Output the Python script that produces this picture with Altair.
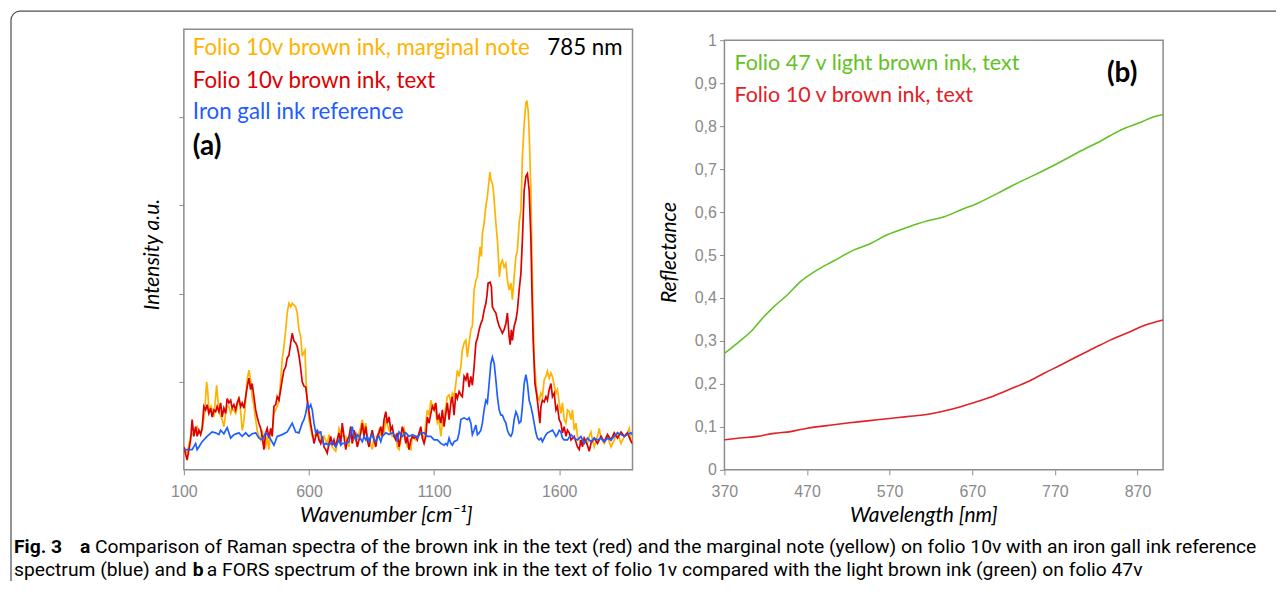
import altair as alt
import pandas as pd

# ---------------- data ----------------
# Raman spectra, wavenumber [cm-1] vs intensity (a.u., axis ticks at 1..4)
RAMAN_MARGINAL = [(100,0.26),(113,0.19),(127,0.38),(140,0.42),(153,0.49),(160,0.42),(173,0.45),(183,0.64),(191,1.00),(196,0.87),(201,0.64),(209,0.72),(220,0.60),(227,0.83),(231,0.96),(236,0.79),(244,0.64),(253,0.57),(260,0.49),(267,0.64),(273,0.72),(280,0.72),(287,0.64),(293,0.68),(300,0.68),(307,0.64),(313,0.72),(320,0.83),(327,0.66),(333,0.45),(337,0.49),(344,0.68),(353,1.02),(360,1.13),(367,1.02),(373,0.83),(380,0.72),(387,0.57),(393,0.45),(400,0.38),(407,0.34),(413,0.45),(420,0.30),(427,0.26),(433,0.38),(440,0.23),(447,0.45),(453,0.42),(460,0.64),(473,0.72),(480,0.79),(487,1.02),(493,1.25),(500,1.40),(507,1.59),(513,1.78),(520,1.89),(527,1.85),(533,1.89),(540,1.87),(547,1.85),
 (553,1.78),(560,1.59),(567,1.51),(573,1.29),(580,1.34),(584,1.36),(589,0.98),(593,0.79),(600,0.57),(607,0.47),(613,0.38),(627,0.40),(640,0.43),(647,0.30),(660,0.38),(673,0.30),(680,0.40),(693,0.26),(707,0.21),(713,0.30),(720,0.47),(733,0.38),(747,0.38),(760,0.26),(767,0.49),(773,0.30),(787,0.43),(793,0.34),(807,0.49),(813,0.57),(820,0.45),(827,0.53),(833,0.38),(840,0.34),(853,0.23),(860,0.38),(867,0.30),(880,0.45),(887,0.38),(893,0.49),(900,0.42),(907,0.57),(920,0.45),(933,0.38),(947,0.40),(953,0.26),(960,0.23),(973,0.42),(980,0.47),(993,0.26),(1007,0.23),(1013,0.38),(1027,0.34),
 (1033,0.38),(1047,0.45),(1060,0.34),(1067,0.53),(1073,0.68),(1080,0.62),(1087,0.79),(1093,0.72),(1100,0.74),(1107,0.66),(1113,0.53),(1120,0.57),(1127,0.38),(1133,0.53),(1140,0.57),(1147,0.72),(1153,0.83),(1160,0.85),(1167,0.76),(1173,0.87),(1180,0.83),(1187,0.98),(1193,1.13),(1200,1.06),(1207,1.17),(1213,1.36),(1220,1.44),(1227,1.47),(1233,1.28),(1240,1.44),(1247,1.59),(1253,1.63),(1260,2.04),(1267,2.15),(1273,2.19),(1280,2.42),(1284,2.53),(1289,2.42),(1293,2.68),(1300,2.80),(1307,2.99),(1313,3.10),(1317,3.21),(1323,3.38),(1327,3.29),(1333,3.25),(1337,3.17),(1343,2.95),(1347,2.80),(1353,2.61),(1357,2.42),(1361,2.19),(1367,2.34),(1373,2.38),(1380,2.30),(1387,2.34),(1393,2.15),(1400,2.04),(1407,2.12),(1413,1.93),(1420,2.19),(1427,2.42),(1433,2.49),(1440,2.80),(1447,2.95),
 (1453,3.55),(1460,3.93),(1467,4.16),(1471,4.19),(1476,4.08),(1480,3.82),(1487,3.17),(1491,2.42),(1495,1.85),(1500,1.28),(1507,0.98),(1513,0.83),(1520,0.79),(1527,0.87),(1533,0.83),(1540,1.02),(1547,1.06),(1553,1.12),(1560,1.04),(1567,1.10),(1573,1.06),(1580,0.96),(1587,0.87),(1593,0.91),(1600,0.76),(1607,0.64),(1613,0.76),(1620,0.57),(1627,0.53),(1633,0.68),(1640,0.66),(1647,0.57),(1653,0.68),(1660,0.45),(1667,0.53),(1673,0.38),(1680,0.34),(1687,0.30),(1700,0.36),(1713,0.30),(1720,0.38),(1727,0.43),(1733,0.34),(1740,0.26),(1753,0.38),(1760,0.47),(1767,0.36),(1780,0.30),(1793,0.38),(1807,0.26),(1820,0.34),(1833,0.42),(1847,0.30),(1860,0.38),(1873,0.42),(1880,0.47),(1887,0.34),(1893,0.30)]

RAMAN_TEXT = [(100,0.26),(113,0.11),(127,0.34),(133,0.57),(140,0.38),(147,0.49),(153,0.38),(160,0.45),(167,0.40),(173,0.47),(180,0.72),(187,0.68),(193,0.74),(200,0.64),(207,0.70),(213,0.60),(220,0.68),(227,0.66),(233,0.72),(240,0.66),(247,0.76),(253,0.60),(260,0.70),(267,0.64),(273,0.81),(280,0.76),(287,0.79),(293,0.70),(300,0.74),(307,0.68),(313,0.76),(320,0.81),(327,0.72),(333,0.76),(340,0.70),(347,0.83),(353,0.94),(360,1.04),(367,0.91),(373,0.98),(380,0.83),(387,0.68),(393,0.60),(400,0.53),(407,0.47),(413,0.38),(420,0.23),(427,0.42),(433,0.47),(440,0.36),(447,0.47),(453,0.38),(460,0.72),(467,0.74),(473,0.83),(480,0.79),(487,0.91),(493,1.02),(500,1.13),(507,1.17),(513,1.27),(520,1.30),(527,1.44),(533,1.55),(540,1.46),(547,1.44),
 (553,1.40),(560,1.30),(567,1.15),(573,1.00),(580,0.95),(587,0.94),(593,0.80),(600,0.66),(607,0.52),(613,0.42),(620,0.30),(627,0.38),(633,0.42),(640,0.34),(647,0.30),(653,0.38),(660,0.26),(667,0.23),(673,0.19),(680,0.30),(687,0.38),(693,0.28),(700,0.34),(707,0.26),(713,0.34),(720,0.42),(727,0.30),(733,0.53),(740,0.38),(747,0.23),(753,0.34),(760,0.38),(767,0.49),(773,0.30),(780,0.45),(787,0.38),(793,0.26),(800,0.34),(807,0.42),(813,0.53),(820,0.38),(827,0.49),(833,0.34),(840,0.26),(847,0.38),(853,0.45),(860,0.34),(867,0.26),(873,0.38),(880,0.42),(887,0.49),(893,0.38),(900,0.57),(907,0.66),(913,0.53),(920,0.60),(927,0.45),(933,0.49),(940,0.38),(947,0.34),(953,0.42),(960,0.26),(967,0.38),(973,0.49),(980,0.42),(987,0.30),(993,0.38),(1000,0.23),(1007,0.34),(1013,0.38),(1020,0.36),(1027,0.38),
 (1033,0.34),(1040,0.42),(1047,0.49),(1053,0.36),(1060,0.30),(1067,0.38),(1073,0.60),(1080,0.53),(1087,0.64),(1093,0.72),(1100,0.68),(1107,0.76),(1113,0.57),(1120,0.62),(1127,0.53),(1133,0.68),(1140,0.49),(1147,0.64),(1153,0.76),(1160,0.57),(1167,0.76),(1173,0.83),(1180,0.62),(1187,0.87),(1193,0.81),(1200,0.89),(1207,0.85),(1213,0.83),(1220,1.06),(1227,1.02),(1233,1.10),(1240,0.94),(1247,1.06),(1253,0.96),(1260,1.17),(1267,1.44),(1273,1.49),(1280,1.59),(1287,1.66),(1293,1.70),(1300,1.81),(1307,1.89),(1311,1.97),(1316,2.12),(1324,2.13),(1329,2.08),(1333,1.85),(1340,1.81),(1347,1.78),(1353,1.70),(1360,1.63),(1367,1.59),(1373,1.55),(1380,1.59),(1387,1.66),(1393,1.78),(1400,1.51),(1404,1.42),(1409,1.59),(1413,1.47),(1420,1.63),(1427,1.70),(1433,1.81),(1440,2.04),(1447,2.23),
 (1453,2.61),(1460,3.17),(1467,3.33),(1473,3.36),(1480,3.17),(1487,2.61),(1491,2.04),(1496,1.47),(1503,0.98),(1511,0.83),(1517,0.68),(1523,0.53),(1527,0.72),(1533,0.79),(1540,0.77),(1547,0.83),(1553,0.79),(1560,0.91),(1567,0.98),(1573,0.83),(1580,0.87),(1587,0.68),(1593,0.72),(1600,0.57),(1607,0.53),(1613,0.42),(1620,0.49),(1627,0.38),(1633,0.45),(1640,0.42),(1647,0.34),(1660,0.38),(1673,0.26),(1680,0.23),(1687,0.34),(1693,0.26),(1700,0.36),(1713,0.28),(1720,0.21),(1727,0.30),(1740,0.36),(1753,0.30),(1767,0.38),(1780,0.32),(1793,0.40),(1807,0.34),(1820,0.42),(1833,0.36),(1847,0.43),(1860,0.38),(1873,0.42),(1887,0.32),(1893,0.30)]

RAMAN_REFERENCE = [(100,0.23),(133,0.23),(147,0.30),(153,0.23),(160,0.26),(173,0.32),(193,0.38),(213,0.43),(227,0.42),(240,0.40),(247,0.45),(260,0.41),(273,0.48),(287,0.36),(300,0.40),(320,0.42),(333,0.38),(347,0.42),(360,0.38),(373,0.41),(387,0.42),(400,0.36),(413,0.34),(427,0.42),(440,0.38),(460,0.28),(473,0.38),(493,0.40),(513,0.43),(533,0.53),(547,0.43),
 (560,0.42),(573,0.53),(580,0.57),(587,0.64),(593,0.74),(600,0.70),(607,0.74),(613,0.68),(620,0.53),(627,0.42),(633,0.45),(640,0.42),(647,0.43),(653,0.34),(660,0.28),(667,0.30),(680,0.28),(693,0.32),(707,0.26),(713,0.30),(720,0.34),(727,0.28),(733,0.30),(747,0.30),(760,0.32),(767,0.42),(773,0.49),(780,0.38),(787,0.34),(793,0.40),(800,0.38),(813,0.32),(820,0.38),(827,0.34),(833,0.38),(840,0.32),(847,0.38),(853,0.40),(860,0.34),(867,0.32),(873,0.36),(880,0.38),(887,0.32),(893,0.38),(907,0.42),(920,0.40),(933,0.42),(947,0.38),(953,0.34),(960,0.43),(973,0.38),(987,0.42),(1000,0.38),(1013,0.40),(1027,0.38),
 (1033,0.36),(1047,0.42),(1060,0.42),(1073,0.38),(1087,0.38),(1100,0.34),(1113,0.34),(1127,0.30),(1140,0.28),(1147,0.30),(1153,0.28),(1160,0.36),(1167,0.30),(1173,0.28),(1180,0.32),(1193,0.34),(1200,0.42),(1207,0.57),(1220,0.59),(1233,0.57),(1240,0.59),(1247,0.53),(1253,0.40),(1260,0.45),(1267,0.51),(1273,0.40),(1280,0.42),(1287,0.45),(1293,0.53),(1300,0.68),(1307,0.79),(1313,0.76),(1320,0.98),(1327,1.21),(1333,1.28),(1340,1.21),(1347,1.02),(1353,0.83),(1360,0.68),(1367,0.62),(1373,0.62),(1380,0.57),(1387,0.53),(1393,0.45),(1400,0.40),(1407,0.38),(1413,0.42),(1420,0.57),(1427,0.66),(1433,0.62),(1440,0.53),(1447,0.55),
 (1453,0.72),(1460,0.98),(1467,1.08),(1473,0.98),(1480,0.79),(1487,0.72),(1493,0.64),(1500,0.53),(1507,0.42),(1513,0.36),(1520,0.34),(1527,0.36),(1533,0.32),(1540,0.36),(1547,0.40),(1553,0.42),(1560,0.43),(1573,0.45),(1580,0.42),(1587,0.38),(1593,0.40),(1600,0.45),(1607,0.43),(1613,0.36),(1620,0.34),(1633,0.34),(1647,0.40),(1660,0.36),(1673,0.34),(1687,0.38),(1700,0.30),(1713,0.36),(1727,0.32),(1740,0.36),(1753,0.34),(1767,0.36),(1780,0.32),(1793,0.36),(1807,0.34),(1820,0.38),(1833,0.42),(1847,0.40),(1860,0.38),(1873,0.40),(1887,0.42),(1893,0.40)]

# FORS spectra, wavelength [nm] vs reflectance
FORS_F47 = [(370,0.271),(383,0.291),(402,0.322),(418,0.357),(430,0.380),(446,0.407),(462,0.438),(482,0.465),(502,0.486),(527,0.512),(547,0.527),(567,0.547),(591,0.564),(615,0.579),(636,0.589),(656,0.605),(676,0.620),(700,0.643),(720,0.663),(745,0.686),(769,0.709),(781,0.721),(801,0.742),(825,0.765),(850,0.791),(874,0.809),(890,0.822),(901,0.827)]
FORS_F10 = [(370,0.070),(389,0.074),(410,0.078),(430,0.085),(450,0.089),(470,0.097),(494,0.103),(519,0.109),(543,0.114),(567,0.119),(591,0.124),(615,0.129),(636,0.137),(656,0.147),(676,0.159),(696,0.172),(716,0.188),(737,0.205),(757,0.225),(777,0.244),(797,0.264),(817,0.283),(837,0.302),(858,0.319),(878,0.336),(901,0.349)]

RAMAN_X_TICKS = [100, 600, 1100, 1600]
RAMAN_Y_TICKS = [1, 2, 3, 4]
FORS_X_TICKS = [370, 470, 570, 670, 770, 870]
FORS_Y_TICKS = [0, 0.1, 0.2, 0.3, 0.4, 0.5, 0.6, 0.7, 0.8, 0.9, 1]

# ---------------- styling ----------------
FONT = "Lato"
TICKFONT = "Liberation Sans"
CAPFONT = "Roboto"
LABEL_GREY = "#8a8a8a"
FRAME = "#8c8c8c"
C_YEL = "#FFB300"
C_RED = "#DD0000"
C_BLUE = "#1F5EFF"
C_GREEN = "#62C224"
C_RED2 = "#E32024"

LW, LH = 449, 441
RW, RH = 439, 441
R_TOP = 1.0 * 441 / 430


def df(pairs, xn, yn):
    return pd.DataFrame(pairs, columns=[xn, yn])


def text(txt, x, y, color="black", size=20, weight="normal", align="left",
         font=FONT, style="normal"):
    return alt.Chart(pd.DataFrame({"t": [txt]})).mark_text(
        align=align, baseline="middle", font=font, fontSize=size,
        fontWeight=weight, fontStyle=style, color=color
    ).encode(x=alt.value(x), y=alt.value(y), text="t:N")


# ---------------- left panel (Raman) ----------------
xs_L = alt.Scale(domain=[100, 1893], nice=False, zero=False)
ys_L = alt.Scale(domain=[0, 5], nice=False, zero=False)
x_L = alt.X("w:Q", scale=xs_L, axis=alt.Axis(
    values=RAMAN_X_TICKS, format="d", labelFlush=False,
    title="Wavenumber [cm⁻¹]", grid=False, domain=False,
    tickSize=5, tickColor=FRAME, tickWidth=1, labelColor=LABEL_GREY,
    labelFont=TICKFONT, labelFontSize=16, labelPadding=9,
    titleFont=FONT, titleFontStyle="italic", titleFontWeight="normal",
    titleFontSize=21, titleColor="black", titleX=202, titleY=46,
    titleBaseline="middle", titleAlign="center"))
y_L = alt.Y("i:Q", scale=ys_L, axis=alt.Axis(
    values=RAMAN_Y_TICKS, labels=False, grid=False, domain=False,
    tickSize=5, tickColor=FRAME, tickWidth=1, title="Intensity a.u.",
    titleFont=FONT, titleFontStyle="italic", titleFontWeight="normal",
    titleFontSize=21, titleColor="black", titleX=-31, titleY=225,
    titleBaseline="middle", titleAlign="center", titleAngle=270))

frame_L = alt.Chart(pd.DataFrame({"w": [100], "w2": [1893], "i": [0], "i2": [5]})).mark_rect(
    fillOpacity=0, stroke=FRAME, strokeWidth=1.5).encode(x=x_L, x2="w2", y=y_L, y2="i2")


def raman_line(pairs, color):
    return alt.Chart(df(pairs, "w", "i")).mark_line(
        color=color, strokeWidth=1.7, clip=True).encode(x=x_L, y=y_L)


border = alt.Chart(pd.DataFrame({"a": [0]})).mark_rect(
    fillOpacity=0, stroke="#4d4d4d", strokeWidth=1.2, cornerRadius=9
).encode(x=alt.value(-173), x2=alt.value(1120), y=alt.value(-18), y2=alt.value(575))

CAP = 19.3
Y1, Y2 = 518, 541
caption = [
    text("Fig. 3", -170, Y1, size=CAP, weight="bold", font=CAPFONT),
    text("a", -104, Y1, size=CAP, weight="bold", font=CAPFONT),
    text("Comparison of Raman spectra of the brown ink in the text (red) and the marginal note "
         "(yellow) on folio 10v with an iron gall ink reference", -89, Y1, size=CAP, font=CAPFONT),
    text("spectrum (blue) and", -170, Y2, size=CAP, font=CAPFONT),
    text("b", 9, Y2, size=CAP, weight="bold", font=CAPFONT),
    text("a FORS spectrum of the brown ink in the text of folio 1v compared with the light "
         "brown ink (green) on folio 47v", 23, Y2, size=CAP, font=CAPFONT),
]

left = alt.layer(
    border,
    frame_L,
    raman_line(RAMAN_MARGINAL, C_YEL),
    raman_line(RAMAN_TEXT, C_RED),
    raman_line(RAMAN_REFERENCE, C_BLUE),
    text("Folio 10v brown ink, marginal note", 9, 19, color=C_YEL, size=22.3),
    text("Folio 10v brown ink, text", 9, 52, color=C_RED, size=22.3),
    text("Iron gall ink reference", 9, 83, color=C_BLUE, size=22.3),
    text("785 nm", 439, 19, size=22.3, align="right"),
    text("(a)", 9, 118, size=28, weight="bold"),
    *caption,
).properties(width=LW, height=LH)

# ---------------- right panel (FORS) ----------------
xs_R = alt.Scale(domain=[370, 901], nice=False, zero=False)
ys_R = alt.Scale(domain=[0, R_TOP], nice=False, zero=False)
x_R = alt.X("l:Q", scale=xs_R, axis=alt.Axis(
    values=FORS_X_TICKS, format="d", labelFlush=False,
    title="Wavelength [nm]", grid=False, domain=False,
    tickSize=5, tickColor=FRAME, tickWidth=1, labelColor=LABEL_GREY,
    labelFont=TICKFONT, labelFontSize=16, labelPadding=9,
    titleFont=FONT, titleFontStyle="italic", titleFontWeight="normal",
    titleFontSize=21, titleColor="black", titleX=199, titleY=46,
    titleBaseline="middle", titleAlign="center"))
y_R = alt.Y("r:Q", scale=ys_R, axis=alt.Axis(
    values=FORS_Y_TICKS, grid=False, domain=False, labelFlush=False,
    labelExpr="replace(format(datum.value, '.1~f'), '.', ',')",
    tickSize=5, tickColor=FRAME, tickWidth=1, labelColor=LABEL_GREY,
    labelFont=TICKFONT, labelFontSize=16, labelPadding=3,
    title="Reflectance", titleFont=FONT, titleFontStyle="italic",
    titleFontWeight="normal", titleFontSize=21, titleColor="black",
    titleX=-55, titleY=223, titleBaseline="middle", titleAlign="center",
    titleAngle=270))

frame_R = alt.Chart(pd.DataFrame({"l": [370], "l2": [901], "r": [0], "r2": [1]})).mark_rect(
    fillOpacity=0, stroke=FRAME, strokeWidth=1.5).encode(x=x_R, x2="l2", y=y_R, y2="r2")


def fors_line(pairs, color):
    return alt.Chart(df(pairs, "l", "r")).mark_line(
        color=color, strokeWidth=1.6, interpolate="monotone").encode(x=x_R, y=y_R)


right = alt.layer(
    frame_R,
    fors_line(FORS_F47, C_GREEN),
    fors_line(FORS_F10, C_RED2),
    text("Folio 47 v light brown ink, text", 10, 35, color=C_GREEN, size=21.5),
    text("Folio 10 v brown ink, text", 10, 67, color=C_RED2, size=21.5),
    text("(b)", 398, 45, size=28, weight="bold", align="center"),
).properties(width=RW, height=RH)

chart = alt.hconcat(left, right, spacing=92, bounds="flush").properties(
    padding={"left": 2, "top": 2, "right": -28, "bottom": -24},
    background="white",
).configure_view(strokeWidth=0)

chart.save("out.html", embed_options={"renderer": "svg", "actions": False})
